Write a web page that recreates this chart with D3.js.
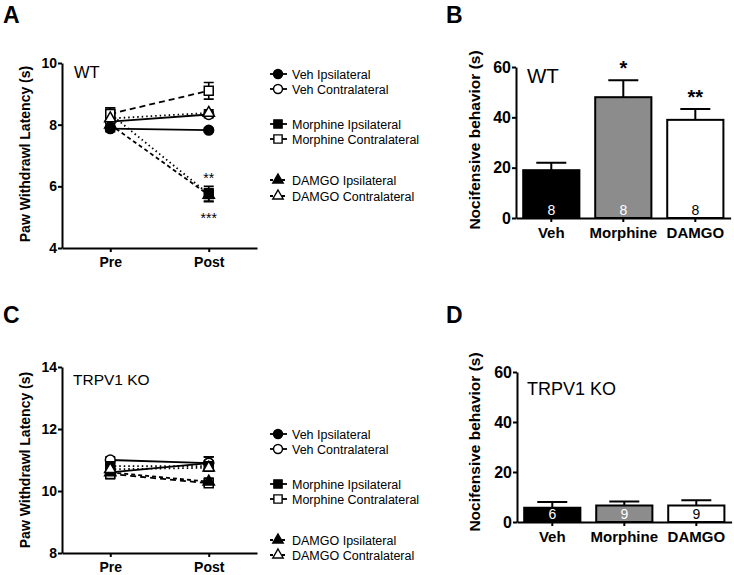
<!DOCTYPE html>
<html><head><meta charset="utf-8">
<script src="https://cdn.jsdelivr.net/npm/d3@7"></script>
<style>body{margin:0;background:#fff} svg{display:block;font-family:"Liberation Sans",Arial,sans-serif}</style>
</head><body><svg id="c" width="734" height="575"></svg>
<script>
// ---------- DATA ----------
const timepoints = ["Pre", "Post"];
const seriesNames = ["Veh Ipsilateral", "Veh Contralateral", "Morphine Ipsilateral", "Morphine Contralateral", "DAMGO Ipsilateral", "DAMGO Contralateral"];
const wtMeans = [[7.87, 7.82], [8.1, 8.33], [8.35, 5.75], [8.35, 9.1], [8.0, 5.72], [8.2, 8.38]];
const wtSem = [[0.1, 0.06], [0.12, 0.1], [0.2, 0.25], [0.2, 0.27], [0.15, 0.2], [0.15, 0.1]];
const koMeans = [[10.6, 10.9], [11.0, 10.9], [10.8, 10.8], [10.55, 10.25], [10.6, 10.3], [10.7, 10.75]];
const koSem = [[0.15, 0.2], [0.1, 0.2], [0.15, 0.15], [0.15, 0.1], [0.15, 0.12], [0.12, 0.1]];
const wtLatencyTicks = [4, 6, 8, 10];
const koLatencyTicks = [8, 10, 12, 14];
const wtPostStars = ["**", "***"];
const drugs = ["Veh", "Morphine", "DAMGO"];
const wtBehavior = [19, 48, 39];
const wtBehaviorSem = [3, 6.7, 4.3];
const wtN = [8, 8, 8];
const wtBarStars = ["", "*", "**"];
const koBehavior = [5.7, 6.6, 6.6];
const koBehaviorSem = [2.3, 1.6, 2.1];
const koN = [6, 9, 9];
const koBarStars = ["", "", ""];
const behaviorTicks = [0, 20, 40, 60];

// ---------- STYLES ----------
const markerType = [d3.symbolCircle, d3.symbolCircle, d3.symbolSquare, d3.symbolSquare, d3.symbolTriangle, d3.symbolTriangle];
const markerSize = [75, 75, 80, 80, 55, 55];
const markerFill = ["#000", "#fff", "#000", "#fff", "#000", "#fff"];
const lineDash = [null, null, "1.5,3", "6,4", "4,3", "1.5,3"];
const legendDash = [null, null, null, null, "3,3", "3,3"];
const barFill = ["#000", "#8c8c8c", "#fff"];
const nColor = ["#fff", "#fff", "#000"];
const FONT = '"Liberation Sans", Arial, sans-serif';

const svg = d3.select("#c");

function styleAxis(ax, fs) {
  ax.selectAll("path.domain").attr("stroke", "#000").attr("stroke-width", 2);
  ax.selectAll(".tick line").attr("stroke", "#000").attr("stroke-width", 2);
  ax.selectAll("text").attr("font-family", FONT).attr("font-weight", "bold").attr("font-size", fs).attr("fill", "#000");
}

function panelLetter(txt, x, y) {
  svg.append("text").attr("x", x).attr("y", y).text(txt)
    .attr("font-family", FONT).attr("font-weight", "bold").attr("font-size", 23);
}

function yLabel(txt, x, cy, fs) {
  svg.append("text").attr("transform", `translate(${x},${cy}) rotate(-90)`)
    .attr("text-anchor", "middle").attr("font-family", FONT).attr("font-weight", "bold")
    .attr("font-size", fs).text(txt);
}

function linePanel(cfg) {
  const g = svg.append("g");
  const x = d3.scalePoint().domain(timepoints).range([62, 257]).padding(0.49);
  const y = d3.scaleLinear().domain(cfg.domain).range(cfg.yRange);
  const ay = g.append("g").attr("transform", "translate(62,0)")
    .call(d3.axisLeft(y).tickValues(cfg.ticks).tickFormat(d3.format("d")).tickSize(4).tickSizeOuter(0).tickPadding(1));
  styleAxis(ay, 14);
  const ax = g.append("g").attr("transform", `translate(0,${cfg.yRange[0]})`)
    .call(d3.axisBottom(x).tickSize(4).tickSizeOuter(0).tickPadding(5));
  styleAxis(ax, 14);
  const line = d3.line().x(d => d[0]).y(d => d[1]);
  cfg.means.forEach((m, i) => {
    g.append("path").attr("d", line(timepoints.map((t, j) => [x(t), y(m[j])])))
      .attr("fill", "none").attr("stroke", "#000").attr("stroke-width", 1.8)
      .attr("stroke-dasharray", lineDash[i]);
  });
  cfg.means.forEach((m, i) => {
    timepoints.forEach((t, j) => {
      const cx = x(t), lo = y(m[j] - cfg.sem[i][j]), hi = y(m[j] + cfg.sem[i][j]);
      g.append("path").attr("d", `M${cx},${lo}V${hi}M${cx - 5},${lo}H${cx + 5}M${cx - 5},${hi}H${cx + 5}`)
        .attr("stroke", "#000").attr("stroke-width", 1.6).attr("fill", "none");
    });
  });
  cfg.means.forEach((m, i) => {
    timepoints.forEach((t, j) => {
      g.append("path").attr("d", d3.symbol().type(markerType[i]).size(markerSize[i])())
        .attr("transform", `translate(${x(t)},${y(m[j])})`)
        .attr("fill", markerFill[i]).attr("stroke", "#000").attr("stroke-width", 1.5);
    });
  });
  g.append("text").attr("x", cfg.titleX).attr("y", cfg.titleY).text(cfg.title)
    .attr("font-family", FONT).attr("font-size", cfg.titleSize);
  if (cfg.stars) {
    cfg.stars.forEach((s, k) => {
      g.append("text").attr("x", x("Post")).attr("y", cfg.starY[k]).attr("text-anchor", "middle")
        .attr("font-family", FONT).attr("font-size", 14).text(s);
    });
  }
  const ly = cfg.legendY;
  seriesNames.forEach((name, i) => {
    const yy = ly[i];
    g.append("line").attr("x1", 270).attr("x2", 287).attr("y1", yy).attr("y2", yy)
      .attr("stroke", "#000").attr("stroke-width", 1.8).attr("stroke-dasharray", legendDash[i]);
    g.append("path").attr("d", d3.symbol().type(markerType[i]).size(markerSize[i] * 0.85)())
      .attr("transform", `translate(278,${yy})`)
      .attr("fill", markerFill[i]).attr("stroke", "#000").attr("stroke-width", 1.4);
    g.append("text").attr("x", 292).attr("y", yy + 4.5).text(name)
      .attr("font-family", FONT).attr("font-size", 12.5);
  });
}

function barPanel(cfg) {
  const g = svg.append("g");
  const x = d3.scaleBand().domain(drugs).range([cfg.axisX, cfg.axisX + 214.6]).paddingInner(0.22).paddingOuter(0.1);
  const y = d3.scaleLinear().domain([0, 60]).range(cfg.yRange);
  const bw = x.bandwidth();
  cfg.values.forEach((v, i) => {
    const cx = x(drugs[i]) + bw / 2;
    const top = y(v + cfg.sem[i]);
    g.append("path").attr("d", `M${cx},${y(v)}V${top}M${cx - 15},${top}H${cx + 15}`)
      .attr("stroke", "#000").attr("stroke-width", 2).attr("fill", "none");
    g.append("rect").attr("x", x(drugs[i])).attr("y", y(v)).attr("width", bw).attr("height", y(0) - y(v))
      .attr("fill", barFill[i]).attr("stroke", "#000").attr("stroke-width", 2);
    g.append("text").attr("x", cx).attr("y", y(0) - 3.5).attr("text-anchor", "middle")
      .attr("font-family", FONT).attr("font-size", 14).attr("fill", nColor[i]).text(cfg.n[i]);
    if (cfg.stars[i]) {
      g.append("text").attr("x", cx).attr("y", top - 5).attr("text-anchor", "middle")
        .attr("font-family", FONT).attr("font-weight", "bold").attr("font-size", 20).text(cfg.stars[i]);
    }
  });
  const ay = g.append("g").attr("transform", `translate(${cfg.axisX},0)`)
    .call(d3.axisLeft(y).tickValues(behaviorTicks).tickFormat(d3.format("d")).tickSize(4).tickSizeOuter(0).tickPadding(1));
  styleAxis(ay, 16);
  const ax = g.append("g").attr("transform", `translate(0,${cfg.yRange[0]})`)
    .call(d3.axisBottom(x).tickSize(4).tickSizeOuter(0).tickPadding(5));
  styleAxis(ax, 15);
  g.append("text").attr("x", cfg.titleX).attr("y", cfg.titleY).text(cfg.title)
    .attr("font-family", FONT).attr("font-size", cfg.titleSize);
}

// Panel A
panelLetter("A", 3, 23);
yLabel("Paw Withdrawl Latency (s)", 30, 154, 14);
linePanel({domain: [4, 10], yRange: [248, 63], ticks: wtLatencyTicks, means: wtMeans, sem: wtSem,
  title: "WT", titleX: 74, titleY: 78, titleSize: 16.5, stars: wtPostStars, starY: [183, 223],
  legendY: [74, 89, 124, 139, 180, 196]});

// Panel B
panelLetter("B", 446, 23);
yLabel("Nocifensive behavior (s)", 480, 140, 15.5);
barPanel({axisX: 516, yRange: [218, 67], values: wtBehavior, sem: wtBehaviorSem, n: wtN, stars: wtBarStars,
  title: "WT", titleX: 527, titleY: 83, titleSize: 20.5});

// Panel C
panelLetter("C", 3, 323);
yLabel("Paw Withdrawl Latency (s)", 30, 460, 14);
linePanel({domain: [8, 14], yRange: [553, 367], ticks: koLatencyTicks, means: koMeans, sem: koSem,
  title: "TRPV1 KO", titleX: 73, titleY: 385, titleSize: 15.5, stars: null,
  legendY: [434, 449, 484, 499, 540, 555]});

// Panel D
panelLetter("D", 446, 323);
yLabel("Nocifensive behavior (s)", 480, 442, 15.5);
barPanel({axisX: 517, yRange: [522, 372], values: koBehavior, sem: koBehaviorSem, n: koN, stars: koBarStars,
  title: "TRPV1 KO", titleX: 527, titleY: 395, titleSize: 18});
</script></body></html>
